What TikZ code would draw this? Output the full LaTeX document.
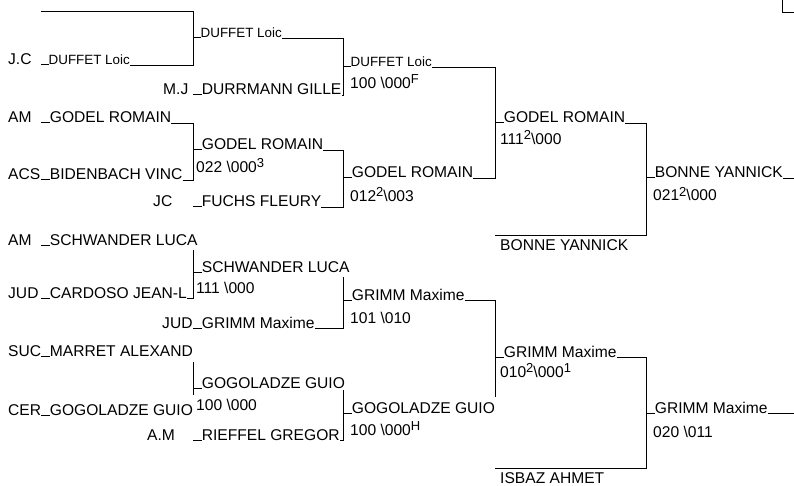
\documentclass[tikz,border=0pt]{standalone}
\usepackage{fontspec}
\setmainfont{Liberation Sans}
\newcommand{\leadbar}{\rule[-0.3pt]{0.556em}{0.8pt}}
\newcommand{\upmark}[1]{\raisebox{5pt}{\fontsize{13}{15}\selectfont #1}}

\begin{document}
\begin{tikzpicture}[x=1pt,y=-1pt]

		\tikzset{club/.style = {anchor=base west,inner sep=0pt,font=\fontsize{15.6}{18}\selectfont}}
		\tikzset{player/.style = {club}}
		\tikzset{smallplayer/.style = {club,font=\fontsize{13.4}{16}\selectfont}}
		\tikzset{score/.style = {club}}
		\tikzset{bracket/.style = {draw,line width=0.8pt}}
		\useasboundingbox (0,0) rectangle (794,486);
		% clubs
		\node[club] (c1) at (8,65) {J.C};
		\node[club] (c2) at (163,95) {M.J};
		\node[club] (c3) at (8,123) {AM};
		\node[club] (c4) at (8,180) {ACS};
		\node[club] (c5) at (153,207) {JC};
		\node[club] (c6) at (8,245) {AM};
		\node[club] (c7) at (8,298) {JUD};
		\node[club] (c8) at (162,328) {JUD};
		\node[club] (c9) at (8,356) {SUC};
		\node[club] (c10) at (8,415) {CER};
		\node[club] (c11) at (147,440) {A.M};
		% first round
		\node[smallplayer] (p1) at (41,65) {\leadbar DUFFET Loic};
		\node[player] (p2) at (193,95) {\leadbar DURRMANN GILLE};
		\node[player] (p3) at (41,123) {\leadbar GODEL ROMAIN};
		\node[player] (p4) at (41,180) {\leadbar BIDENBACH VINC};
		\node[player] (p5) at (193,207) {\leadbar FUCHS FLEURY};
		\node[player] (p6) at (41,245) {\leadbar SCHWANDER LUCA};
		\node[player] (p7) at (41,298) {\leadbar CARDOSO JEAN-L};
		\node[player] (p8) at (193,328) {\leadbar GRIMM Maxime};
		\node[player] (p9) at (41,356) {\leadbar MARRET ALEXAND};
		\node[player] (p10) at (41,415) {\leadbar GOGOLADZE GUIO};
		\node[player] (p11) at (193,440) {\leadbar RIEFFEL GREGOR};
		% second round
		\node[smallplayer] (q1) at (193,38) {\leadbar DUFFET Loic};
		\node[player] (q2) at (193,150) {\leadbar GODEL ROMAIN};
		\node[score] (q2s) at (196,173) {022 \textbackslash000\upmark{3}};
		\node[player] (q3) at (193,272) {\leadbar SCHWANDER LUCA};
		\node[score] (q3s) at (196,293) {111 \textbackslash000};
		\node[player] (q4) at (193,388) {\leadbar GOGOLADZE GUIO};
		\node[score] (q4s) at (196,410) {100 \textbackslash000};
		% third round
		\node[smallplayer] (s1) at (343,67) {\leadbar DUFFET Loic};
		\node[score] (s1s) at (350,89) {100 \textbackslash000\upmark{F}};
		\node[player] (s2) at (343,178) {\leadbar GODEL ROMAIN};
		\node[score] (s2s) at (350,202) {012\upmark{2}\textbackslash003};
		\node[player] (s3) at (343,300) {\leadbar GRIMM Maxime};
		\node[score] (s3s) at (350,323) {101 \textbackslash010};
		\node[player] (s4) at (343,413) {\leadbar GOGOLADZE GUIO};
		\node[score] (s4s) at (350,435) {100 \textbackslash000\upmark{H}};
		% fourth round
		\node[player] (t1) at (495,123) {\leadbar GODEL ROMAIN};
		\node[score] (t1s) at (500,145) {111\upmark{2}\textbackslash000};
		\node[player] (b1) at (500,250) {BONNE YANNICK};
		\node[player] (t2) at (495,357) {\leadbar GRIMM Maxime};
		\node[score] (t2s) at (500,377) {010\upmark{2}\textbackslash000\upmark{1}};
		\node[player] (b2) at (500,483) {ISBAZ AHMET};
		% last round
		\node[player] (f1) at (646,178) {\leadbar BONNE YANNICK};
		\node[score] (f1s) at (653,201) {021\upmark{2}\textbackslash000};
		\node[player] (f2) at (646,413) {\leadbar GRIMM Maxime};
		\node[score] (f2s) at (653,437) {020 \textbackslash011};
		% columns
		\coordinate (r1) at (193,0);
		\coordinate (r2) at (343,0);
		\coordinate (r3) at (495,0);
		\coordinate (r4) at (646,0);
		\coordinate (rr) at (794,0);
		%lines
		\coordinate (bye) at (41,11);
		\draw[bracket] (bye) -- (bye -| r1) -- (p1.base east -| r1) -- (p1.base east);
		\draw[bracket] (p3.base east) -- (p3.base east -| r1) -- (p4.base east -| r1) -- (p4.base east);
		\coordinate (p6cut) at (193,250);
		\draw[bracket] (p6cut) -- (p7.base east -| r1) -- (p7.base east);
		\coordinate (p9cut) at (193,362);
		\coordinate (p10cut) at (193,395);
		\draw[bracket] (p9cut) -- (p10cut);

		\draw[bracket] (q1.base east) -- (q1.base east -| r2) -- (p2.base east -| r2) -- (p2.base east);
		\draw[bracket] (q2.base east) -- (q2.base east -| r2) -- (p5.base east -| r2) -- (p5.base east);
		\coordinate (q3cut) at (343,277);
		\draw[bracket] (q3cut) -- (p8.base east -| r2) -- (p8.base east);
		\coordinate (q4cut) at (343,390);
		\draw[bracket] (q4cut) -- (p11.base east -| r2) -- (p11.base east);

		\draw[bracket] (s1.base east) -- (s1.base east -| r3) -- (s2.base east -| r3) -- (s2.base east);
		\coordinate (s4cut) at (495,397);
		\draw[bracket] (s3.base east) -- (s3.base east -| r3) -- (s4cut);

		\coordinate (bonne) at (495,235);
		\draw[bracket] (t1.base east) -- (t1.base east -| r4) -- (bonne -| r4) -- (bonne);
		\coordinate (isbaz) at (495,468);
		\draw[bracket] (t2.base east) -- (t2.base east -| r4) -- (isbaz -| r4) -- (isbaz);

		\draw[bracket] (f1.base east) -- (f1.base east -| rr);
		\draw[bracket] (f2.base east) -- (f2.base east -| rr);
		% corner at the top right
		\coordinate (corner) at (782,0);
		\draw[bracket] (corner) -- (782,12) -- (794,12);
\end{tikzpicture}
\end{document}
